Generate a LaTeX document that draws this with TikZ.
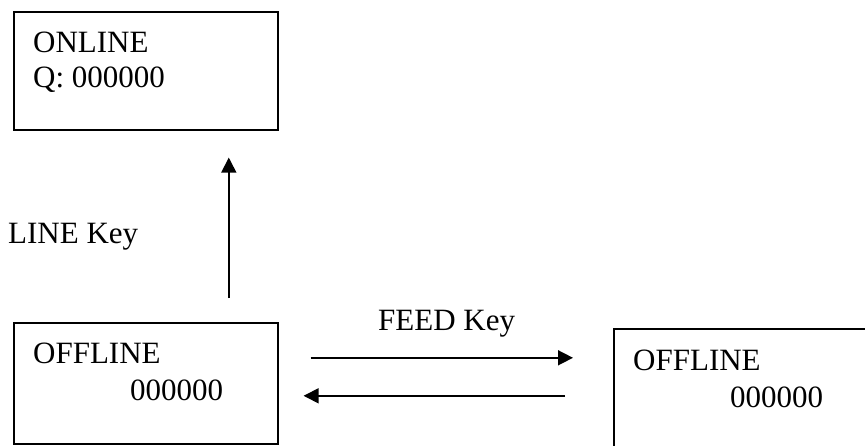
\documentclass[tikz,border=0pt]{standalone}
\usepackage{fontspec}
\setmainfont{Liberation Serif}
\usetikzlibrary{arrows.meta}

\tikzset{
    screen/.style={draw, line width=1.6pt, minimum width=264pt, anchor=north west, inner sep=0pt},
    txt/.style={anchor=base west, inner sep=0pt, font=\fontsize{31}{35}\selectfont},
    keyarrow/.style={-{Triangle[length=15pt, width=15pt]}, line width=1.6pt}
}

\begin{document}
\begin{tikzpicture}[x=1pt, y=-1pt]
    \clip (0, 0) rectangle (865, 445);

    % display boxes
    \node[screen, minimum height=118pt] (online) at (13, 11) {};
    \node[screen, minimum height=121pt] (offleft) at (13, 322) {};
    \node[screen, minimum height=121pt] (offright) at (613, 328) {};

    \node[txt] (onlinea) at (33, 52) {ONLINE};
    \node[txt] (onlineb) at (33, 87) {Q: 000000};
    \node[txt] (offlefta) at (33, 363) {OFFLINE};
    \node[txt] (offleftb) at (130, 400) {000000};
    \node[txt] (offrighta) at (633, 370) {OFFLINE};
    \node[txt] (offrightb) at (730, 407) {000000};

    % keys
    \node[txt] (linekey) at (8, 243) {LINE Key};
    \node[txt] (feedkey) at (378, 330) {FEED Key};

    \draw[keyarrow] ([xshift=83pt, yshift=24pt]offleft.north) -- ([xshift=83pt, yshift=-27pt]online.south);
    \draw[keyarrow] ([xshift=32pt, yshift=25.5pt]offleft.east) -- ([xshift=-40pt, yshift=31.5pt]offright.west);
    \draw[keyarrow] ([xshift=-48pt, yshift=-6.5pt]offright.west) -- ([xshift=25pt, yshift=-12.5pt]offleft.east);
\end{tikzpicture}
\end{document}
